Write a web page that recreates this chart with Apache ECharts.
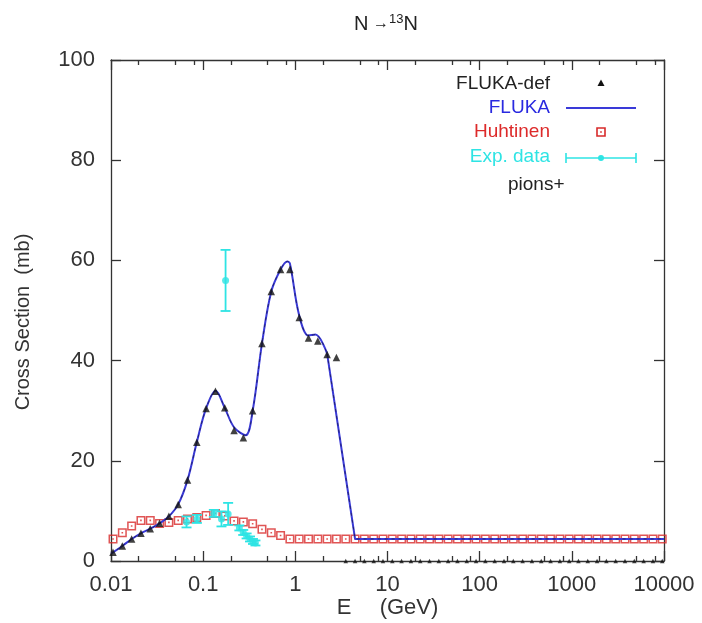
<!DOCTYPE html>
<html><head><meta charset="utf-8">
<script src="https://cdn.jsdelivr.net/npm/echarts@6/dist/echarts.min.js"></script>
<style>html,body{margin:0;padding:0;background:#fff}#c{width:702px;height:623px}</style>
</head><body><div id="c"></div>
<script>
// ---- data ----
const energies = [0.01052,0.01327,0.01675,0.02113,0.02667,0.03365,0.04246,0.05358,0.0676,0.0853,
  0.1076,0.1358,0.1714,0.2163,0.2729,0.3443,0.4345,0.5483,0.6918,0.873,
  1.102,1.390,1.754,2.213,2.793,3.524,4.446,5.610,7.079,8.93,
  11.27,14.22,17.95,22.65,28.58,36.06,45.50,57.41,72.44,91.41,
  115.3,145.5,183.6,231.7,292.4,368.9,465.6,587.5,741.3,935.4,
  1180,1489,1879,2371,2992,3776,4764,6012,7586,9572];
const flukaDef = [1.73,3.0,4.39,5.52,6.44,7.52,8.91,11.3,16.15,23.7,
  30.45,33.9,30.57,26.06,24.59,29.97,43.4,53.8,58.2,58.2,
  48.6,44.5,43.9,41.2,40.6,0,0,0,0,0,
  0,0,0,0,0,0,0,0,0,0,
  0,0,0,0,0,0,0,0,0,0,
  0,0,0,0,0,0,0,0,0,0];
const huhtinen = [4.39,5.64,6.98,8.1,8.1,7.5,7.7,8.1,8.4,8.7,
  9.1,9.5,9.0,8.0,7.8,7.44,6.32,5.64,5.08,4.39,
  4.39,4.39,4.39,4.39,4.39,4.39,4.39,4.39,4.39,4.39,
  4.39,4.39,4.39,4.39,4.39,4.39,4.39,4.39,4.39,4.39,
  4.39,4.39,4.39,4.39,4.39,4.39,4.39,4.39,4.39,4.39,
  4.39,4.39,4.39,4.39,4.39,4.39,4.39,4.39,4.39,4.39];
const flukaCurveE = [0.01,0.01052,0.01327,0.01675,0.02113,0.02667,0.03365,0.04246,0.05358,0.0676,
  0.0853,0.1076,0.1365,0.1714,0.2163,0.289,0.3443,0.4345,0.5483,0.6918,
  0.818,0.873,1.102,1.39,1.65,2.213];
const flukaCurveY = [1.5,1.73,3.0,4.39,5.52,6.44,7.52,8.91,11.3,16.15,
  23.7,30.45,34.0,30.57,26.7,25.1,29.97,43.4,53.8,58.2,
  59.8,59.4,49.0,45.0,45.2,41.4];
const flukaTailE = [2.213,4.446,10000];
const flukaTailY = [41.4,4.4,4.4];
const expE = [0.066,0.0855,0.1306,0.158,0.1866,0.175,0.247,0.272,0.296,0.322,0.347,0.369];
const expY = [7.8,8.4,9.5,8.4,9.4,56.0,6.6,5.7,5.0,4.4,3.9,3.6];
const expErr = [1.1,0.8,0.7,1.5,2.2,6.1,0.5,0.5,0.5,0.5,0.5,0.5];
const xMajorTicks = [0.01,0.1,1,10,100,1000,10000];
const xTickLabels = ['0.01','0.1','1','10','100','1000','10000'];
const xMinorTicks = [0.02,0.05,0.08,0.2,0.5,0.8,2,5,8,20,50,80,200,500,800,2000,5000,8000];
const yMin = 0, yMax = 100, yStep = 20;

// ---- styles ----
const FONT = "'Liberation Sans', Arial, sans-serif";
const AX = '#333';
const BLUE = '#3a3ad8', RED = '#d82a2a', CYAN = '#2ee4e4', BLACK = '#111';

const zip = (a, b) => a.map((v, i) => [v, b[i]]);
const labelFor = v => {
  const i = xMajorTicks.findIndex(t => Math.abs(Math.log10(t) - Math.log10(v)) < 1e-6);
  return i >= 0 ? xTickLabels[i] : '';
};
const boxPath = 'path://M0,0H10V10H0Z M1.7,1.7V8.3H8.3V1.7Z M4.1,4.1H5.9V5.9H4.1Z';

function xAx(pos, major) {
  return {
    type: 'log', logBase: 10, min: 0.01, max: 10000, position: pos,
    axisLine: { show: major, onZero: false, lineStyle: { color: AX, width: 1.3 } },
    axisTick: { show: true, inside: true, length: major ? 10 : 5,
      customValues: major ? xMajorTicks : xMinorTicks, lineStyle: { color: AX, width: 1.3 } },
    axisLabel: { show: major && pos === 'bottom', customValues: xMajorTicks, formatter: labelFor,
      fontSize: 22, fontFamily: FONT, color: '#333', margin: 13 },
    splitLine: { show: false }, minorTick: { show: false }
  };
}
function yAx(pos) {
  return {
    type: 'value', min: yMin, max: yMax, interval: yStep, position: pos,
    axisLine: { show: true, lineStyle: { color: AX, width: 1.3 } },
    axisTick: { show: true, inside: true, length: 10, lineStyle: { color: AX, width: 1.3 } },
    axisLabel: { show: pos === 'left', fontSize: 22, fontFamily: FONT, color: '#333', margin: 16 },
    splitLine: { show: false }
  };
}

const chart = echarts.init(document.getElementById('c'), null, { renderer: 'canvas' });
const legendText = (t, y, color, align, x) => ({ type: 'text', x: x, y: y,
  style: { text: t, fill: color, font: '19px ' + FONT, align: align, verticalAlign: 'middle' } });

chart.setOption({
  animation: false,
  backgroundColor: '#fff',
  grid: { left: 111, right: 38, top: 60, bottom: 62 },
  xAxis: [xAx('bottom', true), xAx('bottom', false), xAx('top', true), xAx('top', false)],
  yAxis: [yAx('left'), yAx('right')],
  graphic: [
    { type: 'text', x: 386, y: 24, style: {
      text: '{n|N}{a| →}{s|13}{n|N}', align: 'center', verticalAlign: 'middle',
      rich: {
        n: { fontSize: 20, fontFamily: FONT, fill: '#222', lineHeight: 24 },
        a: { fontSize: 16, fontFamily: FONT, fill: '#222', lineHeight: 24 },
        s: { fontSize: 13, fontFamily: FONT, fill: '#222', lineHeight: 24, padding: [0, 0, 10, 0] }
      } } },
    { type: 'text', x: 23, y: 322, rotation: Math.PI / 2,
      style: { text: 'Cross Section  (mb)', font: '20px ' + FONT, fill: '#333', align: 'center', verticalAlign: 'middle' } },
    { type: 'text', x: 344, y: 608, style: { text: 'E', font: '22px ' + FONT, fill: '#333', align: 'center', verticalAlign: 'middle' } },
    { type: 'text', x: 409, y: 608, style: { text: '(GeV)', font: '22px ' + FONT, fill: '#333', align: 'center', verticalAlign: 'middle' } },
    legendText('FLUKA-def', 84, '#222', 'right', 550),
    legendText('FLUKA', 108, '#2a2ae0', 'right', 550),
    legendText('Huhtinen', 132, '#dd2a2a', 'right', 550),
    legendText('Exp. data', 157, '#2ee4e4', 'right', 550),
    legendText('pions+', 185, '#222', 'left', 508),
    { type: 'polygon', shape: { points: [[601, 79.5], [604.5, 86], [597.5, 86]] }, style: { fill: BLACK } },
    { type: 'line', shape: { x1: 566, y1: 108, x2: 636, y2: 108 }, style: { stroke: BLUE, lineWidth: 2 } },
    { type: 'rect', shape: { x: 597, y: 128, width: 8, height: 8 }, style: { fill: '#fff', stroke: RED, lineWidth: 1.6 } },
    { type: 'rect', shape: { x: 600.2, y: 131.2, width: 1.6, height: 1.6 }, style: { fill: RED } },
    { type: 'line', shape: { x1: 566, y1: 158, x2: 636, y2: 158 }, style: { stroke: CYAN, lineWidth: 1.6 } },
    { type: 'line', shape: { x1: 566, y1: 153, x2: 566, y2: 163 }, style: { stroke: CYAN, lineWidth: 1.6 } },
    { type: 'line', shape: { x1: 636, y1: 153, x2: 636, y2: 163 }, style: { stroke: CYAN, lineWidth: 1.6 } },
    { type: 'circle', shape: { cx: 601, cy: 158, r: 3 }, style: { fill: CYAN } }
  ],
  series: [
    { name: 'Huhtinen', type: 'scatter', data: zip(energies, huhtinen), symbol: boxPath, symbolSize: 9,
      itemStyle: { color: RED }, z: 2 },
    { name: 'FLUKA', type: 'line', data: zip(flukaCurveE, flukaCurveY), smooth: 0.35, showSymbol: false,
      lineStyle: { color: BLUE, width: 2 }, z: 3 },
    { name: 'FLUKA tail', type: 'line', data: zip(flukaTailE, flukaTailY), smooth: false, showSymbol: false,
      lineStyle: { color: BLUE, width: 2 }, z: 3 },
    { name: 'FLUKA core', type: 'line', data: zip(flukaCurveE, flukaCurveY), smooth: 0.35, showSymbol: false,
      lineStyle: { color: '#1c1c5a', width: 0.8, type: [3, 4] }, z: 3 },
    { name: 'FLUKA tail core', type: 'line', data: zip(flukaTailE, flukaTailY), smooth: false, showSymbol: false,
      lineStyle: { color: '#1c1c5a', width: 0.8, type: [3, 4] }, z: 3 },
    { name: 'Exp. data bars', type: 'custom', data: expE.map((e, i) => [e, expY[i], expErr[i]]), z: 4,
      renderItem: (params, api) => {
        const x = api.value(0), y = api.value(1), e = api.value(2);
        const t = api.coord([x, y + e]), b = api.coord([x, y - e]);
        const hw = 5, st = { stroke: CYAN, lineWidth: 1.8 };
        return { type: 'group', children: [
          { type: 'line', shape: { x1: t[0], y1: t[1], x2: b[0], y2: b[1] }, style: st },
          { type: 'line', shape: { x1: t[0] - hw, y1: t[1], x2: t[0] + hw, y2: t[1] }, style: st },
          { type: 'line', shape: { x1: b[0] - hw, y1: b[1], x2: b[0] + hw, y2: b[1] }, style: st }
        ] };
      } },
    { name: 'Exp. data', type: 'scatter', data: zip(expE, expY), symbol: 'circle', symbolSize: 7,
      itemStyle: { color: CYAN }, z: 5 },
    { name: 'FLUKA-def', type: 'scatter', data: zip(energies, flukaDef), symbol: 'triangle',
      symbolSize: v => (v[1] === 0 ? 4.5 : 7.5),
      itemStyle: { color: BLACK }, z: 6, clip: true }
  ]
});
</script></body></html>
